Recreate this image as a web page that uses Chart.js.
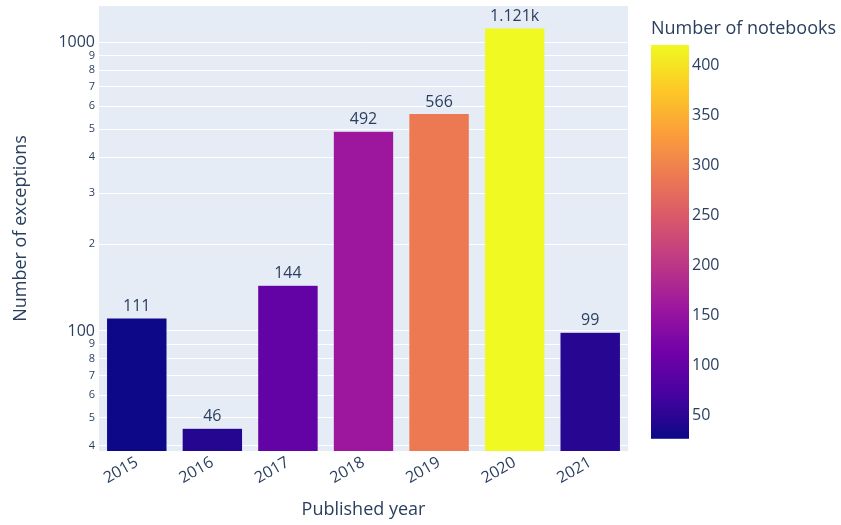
<!DOCTYPE html>
<html><head><meta charset="utf-8">
<script src="https://cdn.jsdelivr.net/npm/chart.js@4/dist/chart.umd.min.js"></script>
<style>html,body{margin:0;padding:0;background:#fff}#wrap{width:841px;height:525px}</style>
</head><body><div id="wrap"><canvas id="c" width="841" height="525"></canvas></div>
<script>
// ---- data ----
const years = ['2015','2016','2017','2018','2019','2020','2021'];
const exceptions = [111, 46, 144, 492, 566, 1121, 99];
const notebooks = [27, 45, 99, 158, 289, 420, 47];
const yTickValues = [40,50,60,70,80,90,100,200,300,400,500,600,700,800,900,1000];
const yTickLabels = ['4','5','6','7','8','9','100','2','3','4','5','6','7','8','9','1000'];
const yMajorTicks = [100, 1000];
const cbTickValues = [50,100,150,200,250,300,350,400];
const cbTickLabels = ['50','100','150','200','250','300','350','400'];

// ---- style ----
const FONT = "'Open Sans', sans-serif";
const TXT = '#2a3f5f';
const PLASMA = ['#0d0887','#46039f','#7201a8','#9c179e','#bd3786','#d8576b','#ed7953','#fb9f3a','#fdca26','#f0f921'];
const cMin = Math.min(...notebooks), cMax = Math.max(...notebooks);

function hex2rgb(h){return [parseInt(h.slice(1,3),16),parseInt(h.slice(3,5),16),parseInt(h.slice(5,7),16)];}
function plasma(t){
  t = Math.max(0, Math.min(1, t));
  const p = t * (PLASMA.length - 1);
  const i = Math.min(Math.floor(p), PLASMA.length - 2);
  const f = p - i;
  const a = hex2rgb(PLASMA[i]), b = hex2rgb(PLASMA[i+1]);
  return 'rgb(' + a.map((v,k)=>Math.round(v + (b[k]-v)*f)).join(',') + ')';
}
const barColors = notebooks.map(n => plasma((n - cMin) / (cMax - cMin)));

function fmt(v){
  if (v >= 1000) return (v/1000).toFixed(3).replace(/\.?0+$/,'') + 'k';
  return String(v);
}

const bgPlugin = {
  id: 'bg',
  beforeDraw(chart){
    const {ctx, chartArea:a} = chart;
    ctx.save(); ctx.fillStyle = '#E5ECF6';
    ctx.fillRect(a.left, a.top, a.right - a.left, a.bottom - a.top);
    ctx.restore();
  }
};

const labelPlugin = {
  id: 'barLabels',
  afterDatasetsDraw(chart){
    const {ctx} = chart;
    const meta = chart.getDatasetMeta(0);
    ctx.save();
    ctx.font = '16px ' + FONT; ctx.fillStyle = TXT;
    ctx.textAlign = 'center'; ctx.textBaseline = 'alphabetic';
    meta.data.forEach((el, i) => {
      ctx.fillText(fmt(exceptions[i]), el.x, el.y - 7);
    });
    ctx.restore();
  }
};

const colorbarPlugin = {
  id: 'colorbar',
  afterDraw(chart){
    const {ctx, chartArea:a} = chart;
    const s = chart.scales.cb;
    const x0 = a.right + 23, x1 = a.right + 61;
    const yTop = s.getPixelForValue(cMax), yBot = s.getPixelForValue(cMin);
    const g = ctx.createLinearGradient(0, yBot, 0, yTop);
    PLASMA.forEach((c, i) => g.addColorStop(i/(PLASMA.length-1), c));
    ctx.save();
    ctx.fillStyle = g;
    ctx.fillRect(x0, yTop, x1 - x0, yBot - yTop);
    ctx.font = '18px ' + FONT; ctx.fillStyle = TXT;
    ctx.textAlign = 'left'; ctx.textBaseline = 'middle';
    ctx.fillText('Number of notebooks', x0, 29);
    ctx.restore();
  }
};

new Chart(document.getElementById('c'), {
  type: 'bar',
  data: {
    labels: years,
    datasets: [{
      data: exceptions,
      backgroundColor: barColors,
      borderColor: '#E5ECF6',
      borderWidth: 0.5,
      barPercentage: 0.8,
      categoryPercentage: 1.0
    }]
  },
  options: {
    responsive: false,
    animation: false,
    layout: { padding: { top: 6, left: 0, right: 0, bottom: 0 } },
    plugins: { legend: { display: false }, tooltip: { enabled: false } },
    scales: {
      x: {
        type: 'category',
        grid: { display: false, drawTicks: false },
        border: { display: false },
        ticks: { font: { family: FONT, size: 16 }, color: TXT, minRotation: 30, maxRotation: 30, padding: 2 },
        title: { display: true, text: 'Published year', font: { family: FONT, size: 18 }, color: TXT, padding: { top: 0, bottom: 4 } },
        afterFit(s){ s.height = 74; s.paddingLeft = 0; s.paddingRight = 0; }
      },
      y: {
        type: 'logarithmic',
        position: 'left',
        min: 38.4, max: 1335,
        afterBuildTicks(s){ s.ticks = yTickValues.map(v => ({ value: v, major: yMajorTicks.includes(v) })); },
        grid: { color: '#ffffff', lineWidth: 1, drawTicks: false },
        border: { display: false },
        ticks: {
          color: TXT,
          padding: 4,
          font: (ctx) => ({ family: FONT, size: (ctx.tick && yMajorTicks.includes(ctx.tick.value)) ? 16 : 11 }),
          callback: (v) => yTickLabels[yTickValues.indexOf(v)]
        },
        title: { display: true, text: 'Number of exceptions', font: { family: FONT, size: 18 }, color: TXT, padding: { top: 10, bottom: 0 } },
        afterFit(s){ s.width = 99; s.paddingTop = 0; s.paddingBottom = 0; }
      },
      cb: {
        type: 'linear',
        position: 'right',
        min: 14.8, max: 458.9,
        afterBuildTicks(s){ s.ticks = cbTickValues.map(v => ({ value: v })); },
        grid: { display: false, drawTicks: false },
        border: { display: false },
        ticks: { color: TXT, padding: 64, font: { family: FONT, size: 16 },
          callback: (v) => cbTickLabels[cbTickValues.indexOf(v)] },
        afterFit(s){ s.width = 841 - 628; s.paddingTop = 0; s.paddingBottom = 0; }
      }
    }
  },
  plugins: [bgPlugin, labelPlugin, colorbarPlugin]
});
</script>
</body></html>
